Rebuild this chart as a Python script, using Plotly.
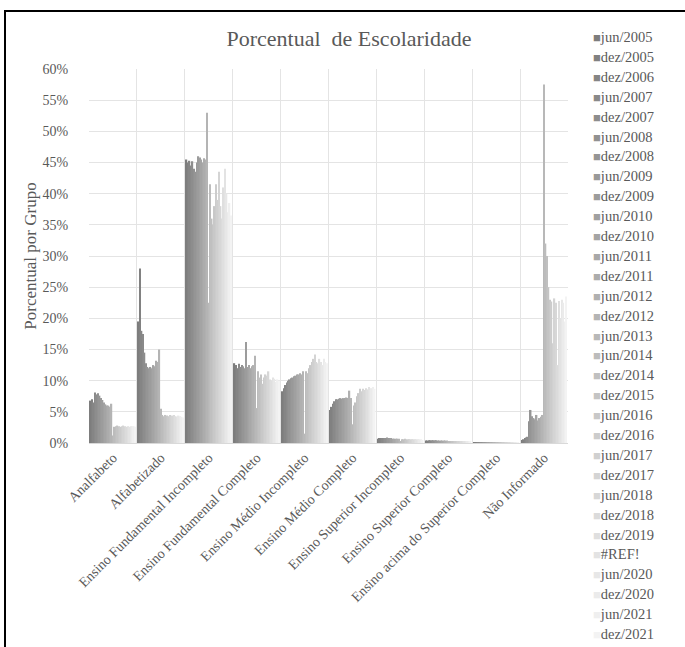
import plotly.graph_objects as go

categories = ["Analfabeto", "Alfabetizado", "Ensino Fundamental Incompleto",
              "Ensino Fundamental Completo", "Ensino Médio Incompleto",
              "Ensino Médio Completo", "Ensino Superior Incompleto",
              "Ensino Superior Completo", "Ensino acima do Superior Completo",
              "Não Informado"]

series = ["jun/2005", "dez/2005", "dez/2006", "jun/2007", "dez/2007", "jun/2008",
          "dez/2008", "jun/2009", "dez/2009", "jun/2010", "dez/2010", "jun/2011",
          "dez/2011", "jun/2012", "dez/2012", "jun/2013", "jun/2014", "dez/2014",
          "dez/2015", "jun/2016", "dez/2016", "jun/2017", "dez/2017", "jun/2018",
          "dez/2018", "dez/2019", "#REF!", "jun/2020", "dez/2020", "jun/2021",
          "dez/2021"]

# values (%) per category, one value per series (in series order)
analfabeto = [6.8, 7.0, 6.5, 8.1, 7.8, 8.0, 7.6, 7.2, 6.9, 6.5, 6.2, 6.0, 6.0, 5.8, 6.3, 1.2,
              2.6, 2.7, 2.8, 2.7, 2.6, 2.7, 2.8, 2.7, 2.6, 2.7, 2.6, 2.7, 2.6, 2.7, 2.6]
alfabetizado = [19.5, 28.0, 18.0, 17.5, 14.5, 12.8, 12.2, 12.0, 12.2, 12.0, 12.5, 12.3, 13.2, 13.0, 15.0, 5.5,
                4.5, 4.3, 4.5, 4.4, 4.3, 4.5, 4.2, 4.4, 4.5, 4.3, 4.2, 4.4, 4.3, 4.2, 4.1]
fund_incompleto = [45.5, 45.0, 45.3, 44.5, 45.2, 44.0, 43.5, 45.0, 46.0, 45.8, 45.5, 45.0, 45.7, 45.5, 53.0, 22.5,
                   41.5, 36.0, 35.0, 38.0, 41.5, 39.0, 43.5, 38.0, 36.0, 41.0, 44.0, 40.0, 37.0, 38.5, 36.5]
fund_completo = [12.8, 12.5, 12.0, 12.7, 12.2, 12.5, 12.3, 12.0, 16.2, 12.2, 12.5, 12.0, 12.3, 12.5, 14.0, 5.6,
                 11.5, 10.5, 11.0, 9.5, 10.5, 11.0, 10.8, 11.5, 10.2, 10.0, 10.5, 10.3, 9.8, 10.2, 10.0]
medio_incompleto = [8.3, 8.8, 9.3, 9.7, 10.0, 10.2, 10.4, 10.5, 10.7, 10.8, 11.0, 11.0, 11.2, 11.0, 11.5, 1.5,
                    11.5, 11.2, 12.0, 12.5, 13.0, 13.5, 14.2, 13.0, 12.8, 13.5, 13.0, 12.5, 13.5, 13.0, 12.8]
medio_completo = [5.3, 5.8, 6.3, 6.7, 7.0, 7.0, 7.1, 7.2, 7.1, 7.2, 7.2, 7.3, 7.2, 8.4, 7.2, 3.0,
                  6.0, 6.5, 7.5, 8.0, 8.7, 8.3, 8.7, 8.5, 8.8, 8.6, 9.0, 8.5, 8.8, 9.0, 8.7]
superior_incompleto = [0.7, 0.8, 0.8, 0.8, 0.8, 0.8, 0.9, 0.8, 0.8, 0.8, 0.7, 0.7, 0.7, 0.7, 0.7, 0.3,
                       0.6, 0.6, 0.7, 0.6, 0.6, 0.6, 0.6, 0.6, 0.6, 0.6, 0.6, 0.6, 0.6, 0.6, 0.5]
superior_completo = [0.4, 0.4, 0.45, 0.45, 0.45, 0.45, 0.45, 0.45, 0.4, 0.4, 0.4, 0.4, 0.4, 0.4, 0.4, 0.2,
                     0.3, 0.3, 0.3, 0.3, 0.3, 0.3, 0.3, 0.3, 0.3, 0.3, 0.3, 0.3, 0.3, 0.3, 0.3]
acima_superior = [0.1, 0.1, 0.1, 0.1, 0.1, 0.1, 0.1, 0.1, 0.1, 0.1, 0.1, 0.1, 0.1, 0.1, 0.1, 0.05,
                  0.05, 0.05, 0.05, 0.05, 0.05, 0.05, 0.05, 0.05, 0.05, 0.05, 0.05, 0.05, 0.05, 0.05, 0.05]
nao_informado = [0.5, 0.6, 0.8, 0.9, 1.0, 3.5, 5.3, 4.3, 4.0, 3.8, 4.5, 3.6, 4.0, 4.2, 4.5, 57.5,
                 32.0, 30.0, 25.0, 23.0, 22.7, 16.0, 23.2, 22.5, 12.5, 22.8, 20.0, 23.0, 22.5, 19.5, 23.5]

columns = [analfabeto, alfabetizado, fund_incompleto, fund_completo, medio_incompleto,
           medio_completo, superior_incompleto, superior_completo, acima_superior, nao_informado]

W, H = 685, 647
L, R, T, B = 89, 117, 69, 204
pw, ph = W - L - R, H - T - B

def px_x(x):
    return (x - L) / pw

def px_y(y):
    return (H - B - y) / ph

n = len(series)
fig = go.Figure()
for i, name in enumerate(series):
    g = int(round(125 + (243 - 125) * i / (n - 1)))
    color = f"rgb({g},{g},{g})"
    fig.add_trace(go.Bar(
        x=categories, y=[col[i] / 100 for col in columns], name=name,
        marker=dict(color=color, line=dict(width=0)), showlegend=False,
        legendgroup=name,
    ))
    # legend entry: colour square glyph followed by the series label
    label = (f'<span style="color:{color};font-size:13px">■</span>'
             f'<span style="font-size:14.5px">{name}</span>')
    fig.add_trace(go.Scatter(
        x=[None], y=[None], mode="markers", name=label, legendgroup=name,
        marker=dict(symbol="square", size=1, color="rgba(0,0,0,0)"), showlegend=True,
    ))

txt = "#595959"
fig.update_layout(
    width=W, height=H,
    margin=dict(l=L, r=R, t=T, b=B, autoexpand=False),
    paper_bgcolor="white", plot_bgcolor="white",
    font=dict(family="Liberation Serif, Times New Roman, serif", color=txt, size=14),
    barmode="group", bargap=0.04, bargroupgap=0,
    title=dict(text="Porcentual  de Escolaridade", x=349 / W, xref="container", xanchor="center",
               y=1 - 38 / H, yref="container", yanchor="middle",
               font=dict(size=22, color=txt, family="Liberation Serif, serif")),
    legend=dict(x=px_x(553), y=px_y(22), xanchor="left", yanchor="top",
                font=dict(size=13, color=txt), bgcolor="rgba(0,0,0,0)",
                itemwidth=30, tracegroupgap=0, traceorder="normal", maxheight=700),
    showlegend=True,
)
fig.update_xaxes(type="category", tickson="boundaries", showgrid=True, gridcolor="#e4e4e4",
                 gridwidth=1, tickangle=-45, ticks="outside", ticklen=8,
                 tickcolor="rgba(0,0,0,0)", showline=True, linecolor="#d9d9d9",
                 tickfont=dict(size=14, color=txt))
fig.update_yaxes(range=[0, 0.6], dtick=0.05, tickformat=".0%", showgrid=True,
                 gridcolor="#e4e4e4", gridwidth=1, zeroline=False, showline=False,
                 ticks="outside", ticklen=17, tickcolor="rgba(0,0,0,0)",
                 tickfont=dict(size=14, color=txt),
                 title=dict(text="Porcentual por Grupo", font=dict(size=17, color=txt), standoff=1))

# document frame border around the chart
fig.add_shape(type="rect", xref="paper", yref="paper",
              x0=px_x(5), x1=px_x(700), y0=px_y(700), y1=px_y(11),
              line=dict(color="black", width=2), fillcolor="rgba(0,0,0,0)", layer="above")

fig.write_html("out.html")
